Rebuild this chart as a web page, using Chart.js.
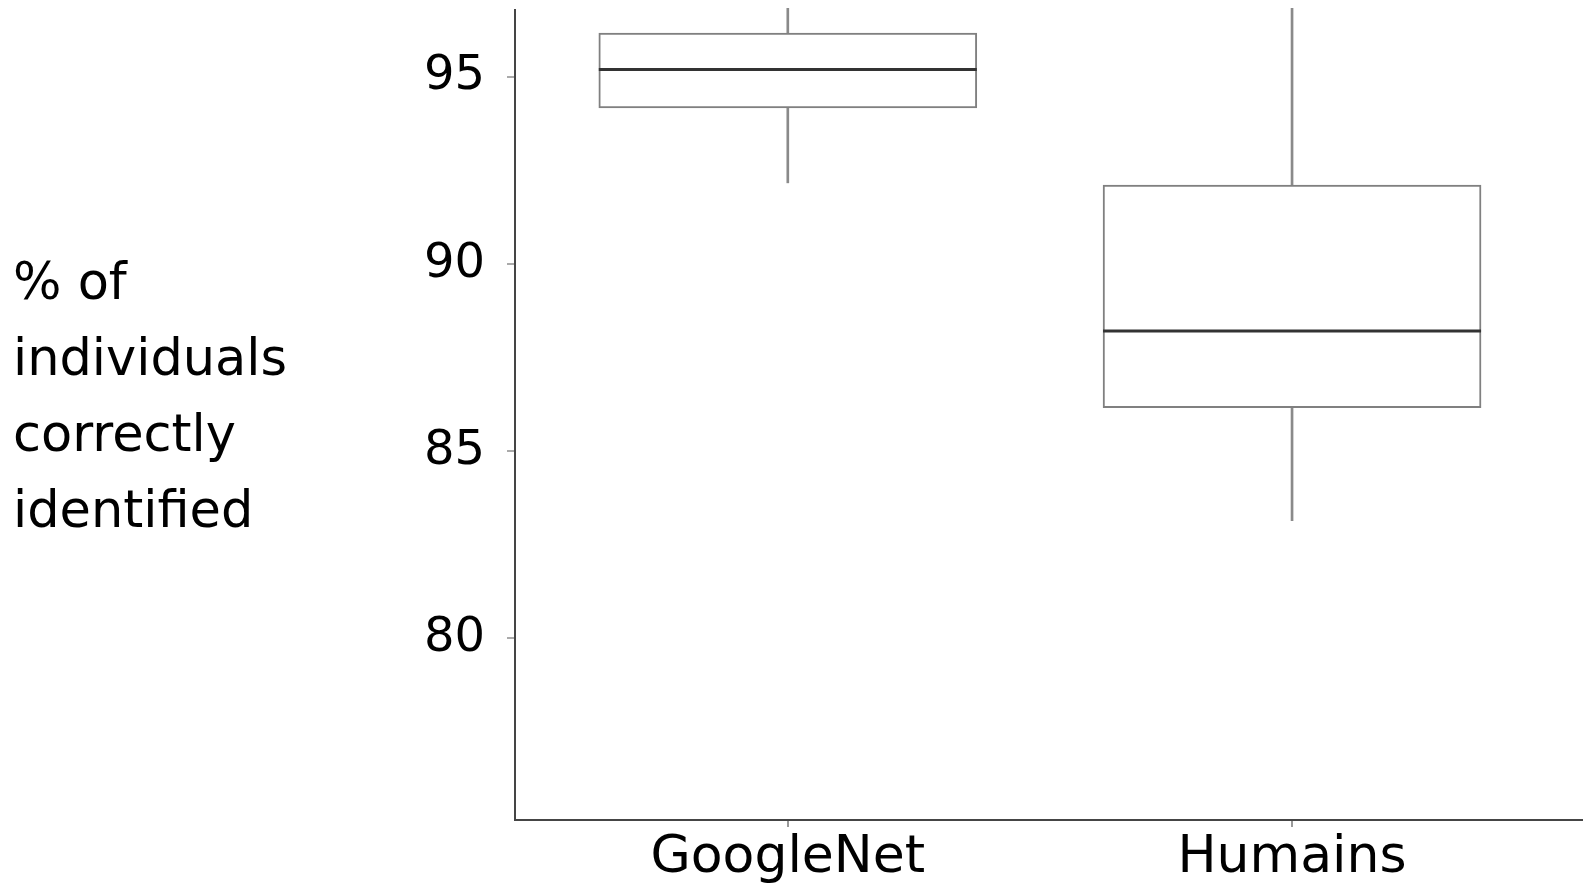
<!DOCTYPE html>
<html>
<head>
<meta charset="utf-8">
<script src="https://cdn.jsdelivr.net/npm/chart.js@4.4.1/dist/chart.umd.min.js"></script>
<style>
  html, body { margin:0; padding:0; background:#fff; }
  #wrap { position:relative; width:1583px; height:883px; }
  #ytitle { position:absolute; left:13px; top:244px; font-family:"DejaVu Sans", sans-serif; font-size:51px; line-height:76px; color:#000; }
</style>
</head>
<body>
<div id="wrap">
  <canvas id="box"></canvas>
  <div id="ytitle">% of<br>individuals<br>correctly<br>identified</div>
</div>
<script>
// data
const groups = ['GoogleNet', 'Humains'];
const groupPos = [1, 2];
const lowWhisker = [92.17, 83.14];
const q1 = [94.17, 86.16];
const median = [95.2, 88.21];
const q3 = [96.17, 92.11];
const highWhisker = [97.5, 97.5]; // runs off the top of the plot
const yTicks = [80, 85, 90, 95];

const $ = id => document.getElementById(id);
const cv = $('box');
cv.width = 1583; cv.height = 883;

// median line drawn over each box
const medianPlugin = {
  id:'medianLine',
  afterDatasetsDraw(chart){
    const meta = chart.getDatasetMeta(0);
    const y = chart.scales.y;
    const ctx = chart.ctx;
    ctx.save();
    ctx.strokeStyle = '#333';
    ctx.lineWidth = 3;
    meta.data.forEach((bar, i) => {
      const py = y.getPixelForValue(median[i]);
      ctx.beginPath();
      ctx.moveTo(bar.x - bar.width/2, py);
      ctx.lineTo(bar.x + bar.width/2, py);
      ctx.stroke();
    });
    ctx.restore();
  }
};

// no automatic label margins, the plot area is fixed
const noPad = s => { s.paddingTop = 0; s.paddingBottom = 0; s.paddingLeft = 0; s.paddingRight = 0; };

new Chart(cv, {
  type:'bar',
  data:{
    datasets:[
      { label:'box', data: groupPos.map((x,i)=>({ x, y:[q1[i], q3[i]] })),
        backgroundColor:'#ffffff', borderColor:'#808080', borderWidth:2, borderSkipped:false,
        barThickness:378, grouped:false },
      { label:'whisker', data: groupPos.map((x,i)=>({ x, y:[lowWhisker[i], highWhisker[i]] })),
        backgroundColor:'#8a8a8a', borderWidth:0, barThickness:2, grouped:false, clip:{left:0, right:0, bottom:0, top:2} }
    ]
  },
  options:{
    responsive:false,
    animation:false,
    layout:{ padding:{ top:10, right:0, left:0, bottom:0 } },
    plugins:{ legend:{ display:false }, tooltip:{ enabled:false } },
    scales:{
      x:{
        type:'linear', min:0.459, max:2.577, offset:false,
        afterBuildTicks: s => { s.ticks = groupPos.map(v => ({ value:v })); },
        afterFit: s => { s.height = 63; noPad(s); },
        ticks:{ callback: v => groups[groupPos.indexOf(v)] ?? '', color:'#000', font:{ family:'DejaVu Sans', size:52 }, padding:0, maxRotation:0, autoSkip:false },
        grid:{ drawOnChartArea:false, offset:false, tickLength:7, color:'#999', lineWidth:2 },
        border:{ color:'#454545', width:2 }
      },
      y:{
        min:75.14, max:96.79,
        afterBuildTicks: s => { s.ticks = yTicks.map(v => ({ value:v })); },
        afterFit: s => { s.width = 515; noPad(s); },
        ticks:{ color:'#000', font:{ family:'DejaVu Sans', size:48 }, padding:22 },
        grid:{ drawOnChartArea:false, tickLength:8, color:'#aaa', lineWidth:2 },
        border:{ color:'#454545', width:2 }
      }
    }
  },
  plugins:[medianPlugin]
});
</script>
</body>
</html>
